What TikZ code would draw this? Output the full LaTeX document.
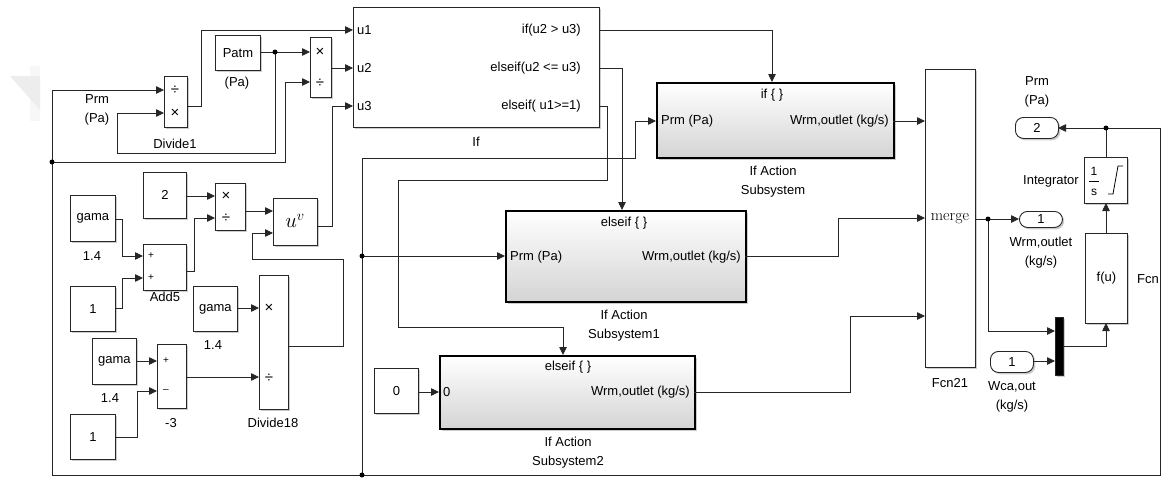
\documentclass[tikz,border=0pt]{standalone}
\usepackage{fontspec}
\newfontfamily\arialf{Liberation Sans}
\usetikzlibrary{arrows.meta,shadows}

\begin{document}
\begin{tikzpicture}[x=1pt,y=-1pt,
  font=\arialf\fontsize{13}{19}\selectfont,
  shd/.style={drop shadow={shadow xshift=1.8pt,shadow yshift=-1.8pt,fill=black!50,opacity=0.4}},
  blk/.style={draw=black!85,line width=0.9pt,fill=white,shd,inner sep=0pt,anchor=north west},
  subsys/.style={draw=black,line width=2.2pt,top color=white,bottom color=black!17,shd,inner sep=0pt,anchor=north west},
  portblk/.style={draw=black!85,line width=0.9pt,fill=white,rounded corners=8pt,shd,inner sep=0pt,anchor=north west},
  wire/.style={draw=black!85,line width=0.8pt},
  arr/.style={wire,-{Triangle[length=8pt,width=7.5pt]}},
  jdot/.style={circle,fill=black,inner sep=0pt,minimum size=5pt},
  lab/.style={align=center,inner sep=0pt},
  sym/.style={font=\arialf\fontsize{15}{15}\selectfont,inner sep=0pt},
  sgn/.style={font=\arialf\fontsize{10}{10}\selectfont,inner sep=0pt},
]
\useasboundingbox (0,0) rectangle (1168,482);
\fill[white] (0,0) rectangle (1168,482);
% faint corner mark
\fill[black!3] (30,66) rectangle (40,121);
\fill[black!7] (10,76) -- (40,76) -- (40,110) -- cycle;

% ---------------- blocks ----------------
\node[blk,minimum width=23pt,minimum height=51pt] (div1) at (164,76) {};
\node[sym] at (175,90) {÷};
\node[sym] at (175,113) {×};
\node[blk,minimum width=45pt,minimum height=35pt] (patm) at (215,35) {Patm};
\node[blk,minimum width=21pt,minimum height=60pt] (divA) at (310,37) {};
\node[sym] at (320,52) {×};
\node[sym] at (320,83) {÷};

\node[blk,minimum width=246pt,minimum height=120pt] (ifb) at (353,7) {};
\node[anchor=west,inner sep=0pt] at (357,30) {u1};
\node[anchor=west,inner sep=0pt] at (357,68) {u2};
\node[anchor=west,inner sep=0pt] at (357,106) {u3};
\node[anchor=east,inner sep=0pt] at (581,30) {if(u2 > u3)};
\node[anchor=east,inner sep=0pt] at (581,68) {elseif(u2 <= u3)};
\node[anchor=east,inner sep=0pt] at (581,106) {elseif( u1>=1)};

\node[subsys,minimum width=237pt,minimum height=75pt] (sub0) at (656,82) {};
\node[inner sep=0pt] at (772,95) {if \{ \}};
\node[anchor=west,inner sep=0pt] at (661,121) {Prm (Pa)};
\node[anchor=east,inner sep=0pt] at (889,121) {Wrm,outlet (kg/s)};

\node[subsys,minimum width=240pt,minimum height=91pt] (sub1) at (505,210) {};
\node[inner sep=0pt] at (624,223) {elseif \{ \}};
\node[anchor=west,inner sep=0pt] at (510,257) {Prm (Pa)};
\node[anchor=east,inner sep=0pt] at (741,257) {Wrm,outlet (kg/s)};

\node[subsys,minimum width=255pt,minimum height=73pt] (sub2) at (439,355) {};
\node[inner sep=0pt] at (568,367) {elseif \{ \}};
\node[anchor=west,inner sep=0pt] at (443,392) {0};
\node[anchor=east,inner sep=0pt] at (690,392) {Wrm,outlet (kg/s)};

\node[blk,minimum width=44pt,minimum height=45pt] (c0) at (374,368) {0};

\node[blk,minimum width=50pt,minimum height=298pt] (merge) at (925,69) {};
\node[inner sep=0pt,font=\rmfamily\fontsize{16}{16}\selectfont] at (950,219) {merge};

\node[portblk,minimum width=43pt,minimum height=16pt] (out1) at (1019,211) {1};
\node[portblk,minimum width=43pt,minimum height=21pt] (in1) at (990,351) {1};
\node[portblk,minimum width=43pt,minimum height=21pt] (out2) at (1015,117) {2};
\node[blk,fill=black,minimum width=8pt,minimum height=58pt] (mux) at (1055,317) {};
\node[blk,minimum width=42pt,minimum height=90pt] (fcn) at (1085,233) {f(u)};
\node[blk,minimum width=43pt,minimum height=46pt] (integ) at (1084,157) {};
\node[inner sep=0pt,font=\arialf\fontsize{12}{12}\selectfont] at (1094,171) {1};
\node[inner sep=0pt,font=\arialf\fontsize{12}{12}\selectfont] at (1094,192) {s};
\draw[line width=0.7pt] (1089,181) -- (1099,181);
\draw[line width=0.8pt] (1123,166) -- (1118,166) -- (1113,194) -- (1108,194);

\node[blk,minimum width=43pt,minimum height=46pt] (c2) at (143,172) {2};
\node[blk,minimum width=30pt,minimum height=47pt] (prodB) at (215,183) {};
\node[sym] at (226,196) {×};
\node[sym] at (226,218) {÷};
\node[blk,minimum width=44pt,minimum height=47pt] (upow) at (273,198) {};
\node[inner sep=0pt,font=\rmfamily\fontsize{20}{20}\selectfont] at (295,221) {$u^{v}$};

\node[blk,minimum width=45pt,minimum height=46pt] (gama1) at (70,195) {gama};
\node[blk,minimum width=43pt,minimum height=46pt] (add5) at (143,244) {};
\node[sgn] at (151,256) {+};
\node[sgn] at (151,278) {+};
\node[blk,minimum width=45pt,minimum height=45pt] (one1) at (70,286) {1};
\node[blk,minimum width=44pt,minimum height=45pt] (gama2) at (193,286) {gama};
\node[blk,minimum width=29pt,minimum height=134pt] (div18) at (259,275) {};
\node[sym] at (269,308) {×};
\node[sym] at (269,378) {÷};
\node[blk,minimum width=44pt,minimum height=46pt] (gama3) at (92,338) {gama};
\node[blk,minimum width=29pt,minimum height=64pt] (sum3) at (157,344) {};
\node[sgn] at (166,361) {+};
\node[sgn] at (166,391) {\textendash};
\node[blk,minimum width=45pt,minimum height=45pt] (one2) at (70,414) {1};

% ---------------- labels ----------------
\node[lab] at (97,110) {Prm\\(Pa)};
\node[lab] at (175,144) {Divide1};
\node[lab] at (237,83) {(Pa)};
\node[lab] at (476,142) {If};
\node[lab] at (773,182) {If Action\\Subsystem};
\node[lab] at (624,326) {If Action\\Subsystem1};
\node[lab] at (568,453) {If Action\\Subsystem2};
\node[lab] at (950,383) {Fcn21};
\node[lab] at (1041,253) {Wrm,outlet\\(kg/s)};
\node[lab] at (1012,397) {Wca,out\\(kg/s)};
\node[lab] at (1037,92) {Prm\\(Pa)};
\node[lab,anchor=east] at (1079,181) {Integrator};
\node[lab] at (1148,279) {Fcn};
\node[lab] at (92,256) {1.4};
\node[lab] at (165,297) {Add5};
\node[lab] at (213,345) {1.4};
\node[lab] at (110,398) {1.4};
\node[lab] at (171,423) {-3};
\node[lab] at (273,423) {Divide18};

% ---------------- ports ----------------
\coordinate (div1i1) at (164,90);
\coordinate (div1i2) at (164,113);
\coordinate (div1o) at (187,106);
\coordinate (patmo) at (260,52);
\coordinate (divAi1) at (310,52);
\coordinate (divAi2) at (310,82);
\coordinate (divAo) at (331,68);
\coordinate (ifu1) at (353,30);
\coordinate (ifu2) at (353,68);
\coordinate (ifu3) at (353,106);
\coordinate (ifo1) at (599,30);
\coordinate (ifo2) at (599,68);
\coordinate (ifo3) at (599,106);
\coordinate (sub0a) at (772,82);
\coordinate (sub0i) at (656,121);
\coordinate (sub0o) at (893,121);
\coordinate (sub1a) at (622,210);
\coordinate (sub1i) at (505,256);
\coordinate (sub1o) at (745,256);
\coordinate (sub2a) at (563,355);
\coordinate (sub2i) at (439,392);
\coordinate (sub2o) at (694,392);
\coordinate (c0o) at (418,392);
\coordinate (mergei1) at (925,121);
\coordinate (mergei2) at (925,218);
\coordinate (mergei3) at (925,316);
\coordinate (mergeo) at (975,219);
\coordinate (out1i) at (1019,219);
\coordinate (in1o) at (1033,361);
\coordinate (muxi1) at (1055,331);
\coordinate (muxi2) at (1055,361);
\coordinate (muxo) at (1063,346);
\coordinate (fcnb) at (1106,323);
\coordinate (fcnt) at (1106,233);
\coordinate (integb) at (1106,203);
\coordinate (integt) at (1106,157);
\coordinate (out2i) at (1058,128);
\coordinate (c2o) at (186,196);
\coordinate (pBi1) at (215,196);
\coordinate (pBi2) at (215,218);
\coordinate (pBo) at (245,211);
\coordinate (upi1) at (273,211);
\coordinate (upi2) at (273,233);
\coordinate (upo) at (317,226);
\coordinate (g1o) at (115,219);
\coordinate (addi1) at (143,256);
\coordinate (addi2) at (143,278);
\coordinate (addo) at (186,271);
\coordinate (one1o) at (115,308);
\coordinate (g2o) at (237,308);
\coordinate (d18i1) at (259,308);
\coordinate (d18i2) at (259,377);
\coordinate (d18o) at (288,346);
\coordinate (g3o) at (136,361);
\coordinate (s3i1) at (157,361);
\coordinate (s3i2) at (157,391);
\coordinate (s3o) at (186,377);
\coordinate (one2o) at (115,437);
% branch points
\coordinate (jpatm) at (275,52);
\coordinate (jl) at (52,162);
\coordinate (jb) at (362,475);
\coordinate (jm) at (362,256);
\coordinate (jmerge) at (988,219);
\coordinate (jint) at (1106,128);

% ---------------- wires ----------------
\draw[arr] (div1o) -- ++(14,0) |- (ifu1);
\draw[arr] (patmo) -- (divAi1);
\draw[arr] (jpatm) -- ++(0,101) -| ++(-158,-40) -- (div1i2);
\draw[arr] (divAo) -- (ifu2);
\draw[arr] (upo) -- ++(15,0) |- (ifu3);
\draw[arr] (integt) |- (out2i);
\draw[arr] (jint) -- ++(54,0) -- ++(0,347) -- ++(-1108,0) |- (div1i1);
\draw[arr] (jl) -| ++(233,-80) -- (divAi2);
\draw[arr] (jb) |- ++(273,-317) |- (sub0i);
\draw[arr] (jm) -- (sub1i);
\draw[arr] (ifo1) -| (sub0a);
\draw[arr] (ifo2) -| (sub1a);
\draw[arr] (ifo3) -- ++(8,0) |- ++(-209,74) |- ++(165,147) -- (sub2a);
\draw[arr] (c0o) -- (sub2i);
\draw[arr] (sub0o) -- (mergei1);
\draw[arr] (sub1o) -- ++(93,0) |- (mergei2);
\draw[arr] (sub2o) -- ++(156,0) |- (mergei3);
\draw[arr] (mergeo) -- (out1i);
\draw[arr] (jmerge) |- (muxi1);
\draw[arr] (in1o) -- (muxi2);
\draw[arr] (muxo) -| (fcnb);
\draw[arr] (fcnt) -- (integb);

\draw[arr] (c2o) -- (pBi1);
\draw[arr] (addo) -- ++(8,0) |- (pBi2);
\draw[arr] (pBo) -- (upi1);
\draw[arr] (d18o) -- ++(55,0) |- ++(-91,-87) |- (upi2);
\draw[arr] (g1o) -- ++(7,0) |- (addi1);
\draw[arr] (one1o) -- ++(7,0) |- (addi2);
\draw[arr] (g2o) -- (d18i1);
\draw[arr] (g3o) -- (s3i1);
\draw[arr] (s3o) -- (d18i2);
\draw[arr] (one2o) -- ++(22,0) |- (s3i2);

% branch dots
\foreach \j in {jpatm,jl,jb,jm,jmerge,jint} \node[jdot] at (\j) {};
\end{tikzpicture}
\end{document}
